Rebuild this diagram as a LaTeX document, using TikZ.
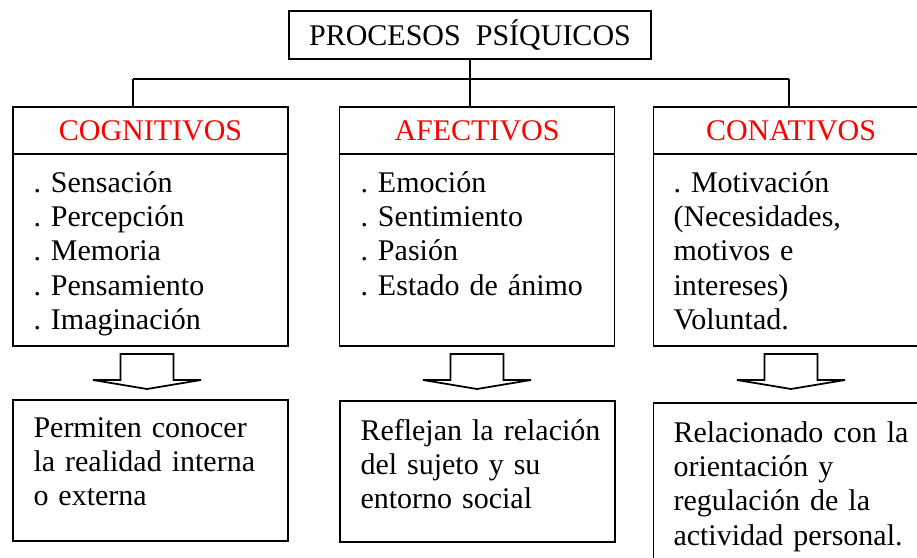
\documentclass[tikz,border=0pt]{standalone}
\usepackage{fontspec}
\setmainfont{Liberation Serif}
\usepackage{tikz}
\usetikzlibrary{positioning}
\frenchspacing

\begin{document}
\begin{tikzpicture}[x=0.4pt,y=-0.4pt]
\tikzstyle{box} = [
	shape=rectangle,
	draw=black, %border of the box
	line width=0.7pt,
	inner sep=0pt,
	font=\fontsize{12}{13.7}\selectfont
];
\tikzstyle{head} = [box, minimum width=110pt, minimum height=18.8pt, text=red];
\tikzstyle{body} = [box, minimum width=110pt, minimum height=76.8pt];
\tikzstyle{result} = [box, minimum width=110pt, minimum height=56.4pt];
\tikzstyle{txt} = [
	anchor=north west,
	inner sep=0pt,
	text width=105pt, %wide enough for the longest line
	align=left,
	font=\fontsize{12}{13.7}\selectfont
];

\clip (0,0) rectangle (917,558);

%title
\node[box, minimum width=144.8pt, minimum height=19.2pt](proc) at (470,35) {PROCESOS\ \ PSÍQUICOS};

%headers
\node[head](cog) at (150.5,130.5) {COGNITIVOS};
\node[head](afe) at (477,130.5) {AFECTIVOS};
\node[head](con) at (791,130.5) {CONATIVOS};

%lists
\node[body](cogB) at (150.5,250) {};
\node[body](afeB) at (477,250) {};
\node[body](conB) at (791,250) {};
\node[txt](cogL) at (33,168) {\strut. Sensación\\. Percepción\\. Memoria\\. Pensamiento\\. Imaginación};
\node[txt](afeL) at (360,168) {\strut. Emoción\\. Sentimiento\\. Pasión\\. Estado de ánimo};
\node[txt](conL) at (673,168) {\strut. Motivación\\(Necesidades,\\motivos e\\intereses)\\Voluntad.};

%results
\node[result](cogR) at (150.5,470.5) {};
\node[result](afeR) at (477.5,471.5) {};
\node[result, minimum height=68.8pt](conR) at (791,489) {};
\node[txt](cogT) at (33,413) {\strut Permiten conocer\\la realidad interna\\o externa};
\node[txt](afeT) at (360,416) {\strut Reflejan la relación\\del sujeto y su\\entorno social};
\node[txt](conT) at (673,418) {\strut Relacionado con la\\orientación y\\regulación de la\\actividad personal.};

%tree lines
\coordinate (busL) at (133,79);
\coordinate (busR) at (789,79);
\draw[line width=0.7pt]
	(proc.south) -- (proc.south |- afe.north)
	(busL) -- (busR)
	(busL) -- (busL |- cog.north)
	(busR) -- (busR |- con.north)
;

%block arrows
\foreach \c in {147,477,791}
	\draw[line width=0.7pt] ({\c-26.5},354) -- ({\c+26.5},354) -- ({\c+26.5},380)
		-- ({\c+54},380) -- (\c,389) -- ({\c-54},380) -- ({\c-26.5},380) -- cycle;

\end{tikzpicture}
\end{document}
